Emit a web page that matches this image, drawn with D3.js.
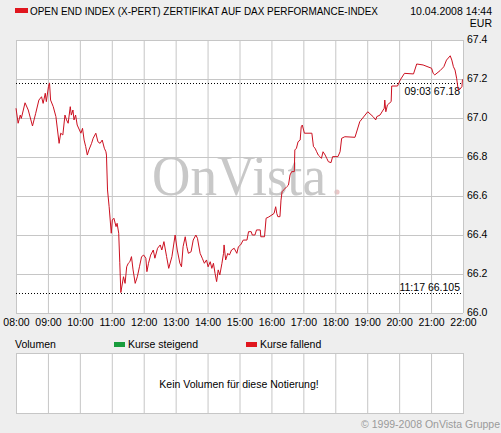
<!DOCTYPE html>
<html><head><meta charset="utf-8">
<script src="https://cdn.jsdelivr.net/npm/d3@7"></script>
<style>
html,body{margin:0;padding:0;background:#eeeeee;}
svg{display:block;font-family:"Liberation Sans",Arial,sans-serif;}
</style></head>
<body>
<svg id="c" width="501" height="433"></svg>
<script>
const title = "OPEN END INDEX (X-PERT) ZERTIFIKAT AUF DAX PERFORMANCE-INDEX";
const dateLabel = "10.04.2008 14:44";
const currency = "EUR";
const hourTicks = ["08:00","09:00","10:00","11:00","12:00","13:00","14:00","15:00","16:00","17:00","18:00","19:00","20:00","21:00","22:00"];
const valueTicks = [66.0,66.2,66.4,66.6,66.8,67.0,67.2,67.4];
const highMark = {time:"09:03", value:67.18, label:"09:03 67.18"};
const lowMark = {time:"11:17", value:66.105, label:"11:17 66.105"};
const times = ["08:00","08:04","08:08","08:10","08:17","08:23","08:31","08:37","08:43","08:48","08:51","08:55","08:57","09:01","09:03","09:05","09:10","09:15","09:21","09:24","09:28","09:32","09:35","09:38","09:42","09:44","09:47","09:49","09:52","09:55","10:02","10:05","10:08","10:11","10:14","10:17","10:22","10:25","10:30","10:34","10:38","10:42","10:46","10:49","10:50","10:52","10:55","10:59","11:01","11:04","11:08","11:10","11:13","11:15","11:17","11:22","11:25","11:28","11:31","11:34","11:37","11:40","11:44","11:48","11:52","11:56","12:00","12:04","12:06","12:09","12:13","12:18","12:21","12:26","12:31","12:34","12:38","12:43","12:47","12:53","12:59","13:03","13:08","13:11","13:14","13:18","13:21","13:24","13:29","13:33","13:38","13:41","13:46","13:50","13:54","13:58","14:01","14:05","14:08","14:11","14:14","14:17","14:20","14:23","14:27","14:30","14:31","14:34","14:38","14:41","14:45","14:50","14:55","14:58","15:02","15:07","15:14","15:17","15:22","15:24","15:29","15:32","15:39","15:40","15:47","15:50","15:54","16:01","16:05","16:08","16:10","16:12","16:16","16:18","16:20","16:24","16:29","16:32","16:35","16:38","16:43","16:44","16:47","16:50","16:54","16:56","16:58","17:02","17:16","17:19","17:22","17:25","17:28","17:31","17:34","17:37","17:41","17:44","17:47","17:52","17:55","18:05","18:09","18:12","18:18","18:37","18:46","19:01","19:11","19:16","19:18","19:24","19:32","19:33","19:35","19:38","19:45","19:46","19:57","20:02","20:10","20:27","20:33","20:45","21:01","21:04","21:07","21:17","21:24","21:29","21:36","21:39","21:42","21:45","21:48","21:51","21:54","21:58","21:59"];
const prices = [67.05,66.973,67.015,66.998,67.078,67.041,66.959,67.024,67.092,67.109,67.075,67.127,67.084,67.161,67.18,67.092,67.058,67.007,66.87,66.922,66.913,67.015,66.99,66.973,67.058,67.015,67.041,66.99,67.015,66.964,66.922,66.947,66.887,66.853,66.81,66.836,66.87,66.896,66.922,66.878,66.87,66.887,66.845,66.827,66.81,66.631,66.545,66.409,66.477,66.486,66.443,66.46,66.409,66.26,66.105,66.186,66.152,66.237,66.255,66.263,66.289,66.221,66.152,66.186,66.237,66.289,66.297,66.281,66.212,66.255,66.297,66.323,66.281,66.332,66.349,66.323,66.366,66.289,66.229,66.289,66.4,66.323,66.255,66.237,66.34,66.391,66.34,66.306,66.314,66.374,66.4,66.383,66.306,66.281,66.255,66.272,66.237,66.263,66.229,66.255,66.204,66.161,66.221,66.195,66.255,66.306,66.349,66.272,66.306,66.297,66.323,66.332,66.306,66.34,66.349,66.374,66.374,66.417,66.417,66.4,66.4,66.426,66.426,66.391,66.391,66.486,66.491,66.503,66.511,66.545,66.511,66.494,66.494,66.579,66.622,66.634,66.648,66.656,66.708,66.725,66.725,66.836,66.845,66.878,66.887,66.955,66.964,66.922,66.922,66.853,66.845,66.827,66.81,66.802,66.793,66.827,66.81,66.793,66.776,66.771,66.802,66.802,66.827,66.896,66.904,66.901,66.981,67.032,67.007,66.99,67.007,67.015,67.05,67.092,67.032,67.067,67.084,67.164,67.164,67.195,67.229,67.226,67.277,67.272,67.255,67.229,67.221,67.243,67.263,67.297,67.319,67.297,67.263,67.246,67.204,67.144,67.147,67.161,67.198];
const legendItems = [{label:"Kurse steigend", color:"#189c3c"},{label:"Kurse fallend", color:"#e0161e"}];
const volumeLabel = "Volumen";
const noVolumeText = "Kein Volumen für diese Notierung!";
const copyright = "© 1999-2008 OnVista Gruppe";

const toMin = s => { const [h,m] = s.split(":").map(Number); return h*60+m; };
const data = times.map((t,i)=>({t:toMin(t), v:prices[i]}));

const svg = d3.select("#c");
const L = 16, R = 463, T = 40, B = 313;
const VT = 353, VB = 413;
const x = d3.scaleLinear().domain([toMin("08:00"), toMin("22:00")]).range([L, R]);
const y = d3.scaleLinear().domain([66.0, 67.4]).range([B, T]);
const grid = "#c6c6c6";
const FS = 10.5;

// title
svg.append("rect").attr("x",15).attr("y",8).attr("width",13).attr("height",5).attr("fill","#e0161e");
svg.append("text").attr("x",30).attr("y",15).attr("font-size",11).attr("fill","#000")
  .attr("textLength",348).attr("lengthAdjust","spacingAndGlyphs").text(title);
svg.append("text").attr("x",492).attr("y",15).attr("font-size",FS).attr("text-anchor","end").text(dateLabel);
svg.append("text").attr("x",492).attr("y",27).attr("font-size",FS).attr("text-anchor","end").text(currency);

// plot bg
svg.append("rect").attr("x",L).attr("y",T).attr("width",R-L).attr("height",B-T).attr("fill","#fff");

// watermark
svg.append("text").attr("x",152).attr("y",195).attr("font-family","'Liberation Serif','Times New Roman',serif")
  .attr("font-size",56).attr("fill","#c8c8c8").attr("textLength",174).attr("lengthAdjust","spacingAndGlyphs")
  .text("OnVista");
svg.append("circle").attr("cx",337).attr("cy",192).attr("r",2.6).attr("fill","#ecc8c8");

// grid
const gx = svg.append("g");
hourTicks.forEach(h=>{
  gx.append("line").attr("x1",x(toMin(h))+0.5).attr("x2",x(toMin(h))+0.5).attr("y1",T).attr("y2",B).attr("stroke",grid);
});
valueTicks.forEach(v=>{
  gx.append("line").attr("x1",L).attr("x2",R).attr("y1",Math.round(y(v))+0.5).attr("y2",Math.round(y(v))+0.5).attr("stroke",grid);
});

// axes labels
const xAxis = d3.axisBottom(x).tickValues(hourTicks.map(toMin)).tickSize(0).tickPadding(0)
  .tickFormat((d,i)=>hourTicks[i]);
const xa = svg.append("g").attr("transform",`translate(0,${B+6})`).call(xAxis);
xa.select(".domain").remove();
xa.selectAll("text").attr("font-size",FS).attr("font-family","'Liberation Sans',Arial,sans-serif").attr("fill","#000").attr("dy","0.71em");

const yAxis = d3.axisRight(y).tickValues(valueTicks).tickSize(0).tickPadding(0).tickFormat(d3.format(".1f"));
const ya = svg.append("g").attr("transform",`translate(${R+4},-1)`).call(yAxis);
ya.select(".domain").remove();
ya.selectAll("text").attr("font-size",FS).attr("font-family","'Liberation Sans',Arial,sans-serif").attr("fill","#000");

// marker lines
[highMark, lowMark].forEach((m,i)=>{
  const yy = Math.round(y(m.value))+0.5;
  svg.append("line").attr("x1",L).attr("x2",R).attr("y1",yy).attr("y2",yy)
    .attr("stroke","#000").attr("stroke-dasharray","1,2");
  svg.append("text").attr("x",460).attr("y", i===0 ? yy+11 : yy-3).attr("font-size",FS).attr("text-anchor","end").text(m.label);
});

// line
const line = d3.line().x(d=>x(d.t)).y(d=>y(d.v));
svg.append("path").datum(data).attr("d",line).attr("fill","none").attr("stroke","#cc1020").attr("stroke-width",1);

// volume panel
svg.append("text").attr("x",15).attr("y",348).attr("font-size",FS).text(volumeLabel);
const lg = [114, 246];
legendItems.forEach((it,i)=>{
  svg.append("rect").attr("x",lg[i]).attr("y",342).attr("width",11).attr("height",5).attr("fill",it.color);
  svg.append("text").attr("x",lg[i]+14).attr("y",348).attr("font-size",FS).text(it.label);
});
svg.append("rect").attr("x",L+0.5).attr("y",VT+0.5).attr("width",R-L).attr("height",VB-VT).attr("fill","#fff").attr("stroke",grid);
hourTicks.forEach(h=>{
  svg.append("line").attr("x1",x(toMin(h))+0.5).attr("x2",x(toMin(h))+0.5).attr("y1",VT).attr("y2",VB).attr("stroke",grid);
});
svg.append("text").attr("x",239).attr("y",388).attr("font-size",FS).attr("text-anchor","middle").text(noVolumeText);
svg.append("text").attr("x",500).attr("y",428).attr("font-size",FS).attr("text-anchor","end").attr("fill","#9a9a9a").text(copyright);
</script>
</body></html>
